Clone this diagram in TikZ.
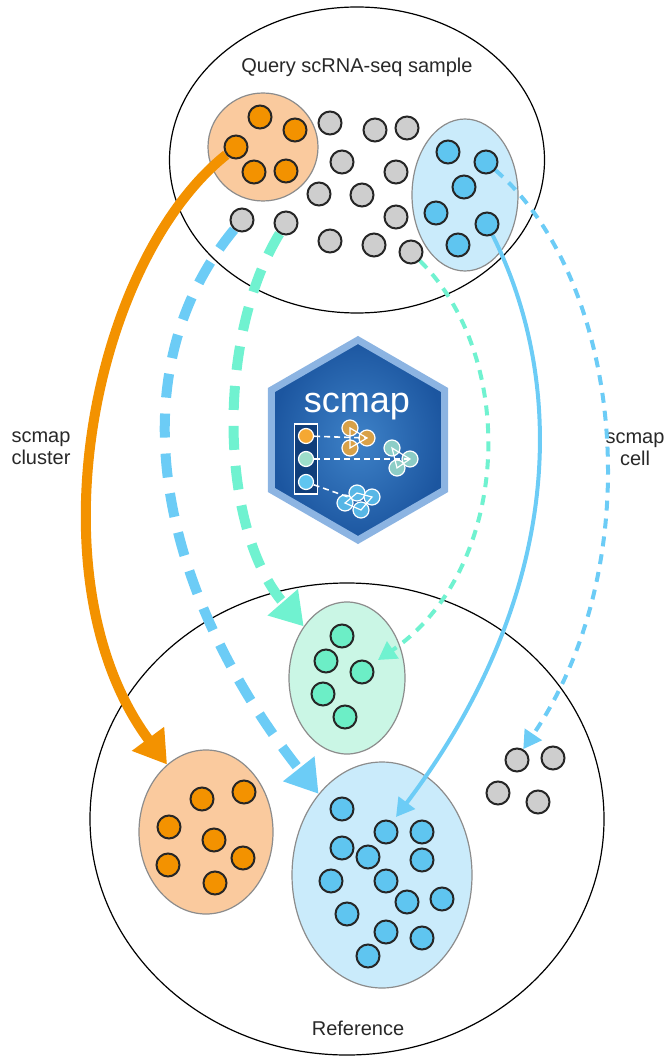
\documentclass[tikz,border=0pt]{standalone}
\usepackage{fontspec}
\setmainfont{Liberation Sans}
\usepackage{xcolor}
\usetikzlibrary{arrows.meta,positioning,shapes.geometric,calc}

\definecolor{orcell}{RGB}{243,146,0}
\definecolor{orclus}{RGB}{250,202,158}
\definecolor{bucell}{RGB}{95,197,240}
\definecolor{buclus}{RGB}{202,235,251}
\definecolor{grcell}{RGB}{108,238,198}
\definecolor{grclus}{RGB}{202,246,229}
\definecolor{gycell}{RGB}{206,206,206}
\definecolor{orarr}{RGB}{243,146,0}
\definecolor{buarr}{RGB}{108,204,246}
\definecolor{grarr}{RGB}{112,242,208}
\definecolor{txtgray}{RGB}{40,40,40}
\definecolor{logoout}{RGB}{28,86,160}
\definecolor{logoin}{RGB}{62,130,200}
\definecolor{logoedge}{RGB}{140,180,226}
\definecolor{logobox}{RGB}{16,62,122}

\pgfdeclarelayer{bg}
\pgfdeclarelayer{fg}
\pgfsetlayers{bg,main,fg}

\begin{document}
\begin{tikzpicture}[
  x=0.5pt, y=-0.5pt,
  font=\fontsize{10}{11}\selectfont, text=txtgray,
  cell/.style={circle, draw=black!85, line width=1pt, inner sep=0pt, minimum size=11.5pt},
  clus/.style={ellipse, draw=black!45, line width=0.6pt, inner sep=0pt},
  sample/.style={ellipse, draw=black, line width=0.6pt, inner sep=0pt},
  bigarr/.style={line width=5pt, -{Triangle[length=16pt,width=19pt]}},
  thinarr/.style={line width=2pt, -{Triangle[length=9pt,width=10pt]}},
  bigdash/.style={dash pattern=on 12pt off 8pt},
  thindash/.style={dash pattern=on 5pt off 4pt},
  lcell/.style={circle, draw=white, line width=0.6pt, inner sep=0pt, minimum size=7.5pt},
  lmini/.style={circle, draw=white, line width=0.6pt, inner sep=0pt, minimum size=8pt, fill opacity=0.85},
  llink/.style={white, line width=0.8pt, dash pattern=on 3pt off 2pt}
]
\useasboundingbox (0,0) rectangle (669,1058);

% samples and clusters
\begin{pgfonlayer}{bg}
\node[sample, minimum width=187.5pt, minimum height=153pt] (query) at (357,160) {};
\node[sample, minimum width=257pt, minimum height=236pt] (ref) at (347,819) {};
\node[clus, fill=orclus, minimum width=55pt, minimum height=54pt] (qryO) at (263,147) {};
\node[clus, fill=buclus, minimum width=53pt, minimum height=76pt] (qryB) at (465,195) {};
\node[clus, fill=grclus, minimum width=58pt, minimum height=76pt] (refG) at (347,678) {};
\node[clus, fill=orclus, minimum width=67pt, minimum height=82pt] (refO) at (206,832) {};
\node[clus, fill=buclus, minimum width=90pt, minimum height=113pt] (refB) at (382,875) {};
\end{pgfonlayer}

\node (qtitle) at (357,67) {Query scRNA-seq sample};
\node (rtitle) at (358,1028) {Reference};
\node[align=center] (lclust) at (41,448) {scmap\\cluster};
\node[align=center] (lcell) at (635,449) {scmap\\cell};

% cells
\begin{pgfonlayer}{fg}
\foreach \x/\y [count=\i] in {260/117, 295/130, 236/147, 254/172, 286/171}
  \node[cell, fill=orcell] (qo\i) at (\x,\y) {};
\foreach \x/\y [count=\i] in {330/123, 375/130, 407/128, 342/162, 396/172, 319/194, 362/195,
    396/217, 242/220, 286/223, 330/241, 374/245, 411/252}
  \node[cell, fill=gycell] (qg\i) at (\x,\y) {};
\foreach \x/\y [count=\i] in {448/152, 486/162, 464/187, 436/213, 487/224, 458/245}
  \node[cell, fill=bucell] (qb\i) at (\x,\y) {};
\foreach \x/\y [count=\i] in {342/636, 326/661, 362/672, 323/694, 345/717}
  \node[cell, fill=grcell] (rg\i) at (\x,\y) {};
\foreach \x/\y [count=\i] in {202/799, 244/792, 169/827, 214/840, 243/858, 168/865, 215/883}
  \node[cell, fill=orcell] (ro\i) at (\x,\y) {};
\foreach \x/\y [count=\i] in {342/809, 386/832, 422/832, 342/848, 368/857, 422/860, 331/881,
    386/881, 407/902, 442/899, 347/914, 386/932, 422/938, 368/956}
  \node[cell, fill=bucell] (rb\i) at (\x,\y) {};
\foreach \x/\y [count=\i] in {517/760, 553/758, 498/793, 538/802}
  \node[cell, fill=gycell] (ry\i) at (\x,\y) {};
\end{pgfonlayer}

% mappings
\coordinate (gTip) at (378,660);
\coordinate (bTip) at (396,817);
\draw[bigarr, orarr] (qo3) .. controls (92,262) and (30,580) .. (refO.120);
\draw[bigarr, bigdash, buarr] (qg9) .. controls (110,380) and (165,600) .. (refB.128);
\draw[bigarr, bigdash, grarr] (qg10) .. controls (215,340) and (220,530) .. (refG.130);
\draw[thinarr, thindash, grarr] (qg13) .. controls (520,360) and (510,570) .. (gTip);
\draw[thinarr, buarr] (qb5) .. controls (570,390) and (560,600) .. (bTip);
\draw[thinarr, thindash, buarr] (qb2) .. controls (622,280) and (652,560) .. (ry1.60);

% logo
\node[regular polygon, regular polygon sides=6, shape border rotate=30, minimum size=100pt,
  inner sep=0pt, draw=logoedge, line width=3.5pt, inner color=logoin, outer color=logoout] (logo) at (358,440) {};
\node[text=white, font=\fontsize{18}{18}\selectfont, anchor=base] (lname) at (357,412) {scmap};
\node[draw=white, line width=0.8pt, fill=logobox, minimum width=11.5pt, minimum height=35pt, inner sep=0pt] (lbox) at (306,459) {};
\node[lcell, fill=orcell!80] (lo) at (306,436) {};
\node[lcell, fill=grcell!50!gycell] (lg) at (306,459) {};
\node[lcell, fill=bucell] (lb) at (306,482) {};
\node[lmini, fill=orcell!80] (la1) at (350,428) {};
\node[lmini, fill=orcell!80] (la2) at (367,438) {};
\node[lmini, fill=orcell!80] (la3) at (350,448) {};
\node[lmini, fill=grcell!50!gycell] (lb1) at (392,448) {};
\node[lmini, fill=grcell!50!gycell] (lb2) at (410,459) {};
\node[lmini, fill=grcell!50!gycell] (lb3) at (397,468) {};
\node[lmini, fill=bucell] (lc1) at (357,493) {};
\node[lmini, fill=bucell] (lc2) at (372,497) {};
\node[lmini, fill=bucell] (lc3) at (345,503) {};
\node[lmini, fill=bucell] (lc4) at (361,510) {};
\draw[llink] (lo) -- (la2.center);
\draw[llink] (lg) -- (lb2.center);
\draw[llink] (lb) -- ($(lc1)!0.5!(lc3)$);
\draw[white, line width=0.6pt] (la1.center) -- (la2.center) -- (la3.center) -- cycle;
\draw[white, line width=0.6pt] (lb1.center) -- (lb2.center) -- (lb3.center) -- cycle;
\draw[white, line width=0.6pt] (lc1.center) -- (lc2.center) -- (lc4.center) -- (lc3.center) -- cycle;
\end{tikzpicture}
\end{document}
